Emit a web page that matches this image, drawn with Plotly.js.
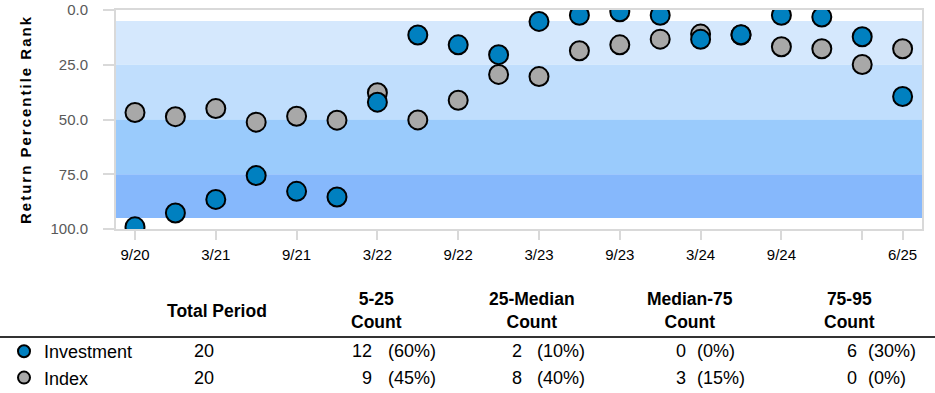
<!DOCTYPE html>
<html>
<head>
<meta charset="utf-8">
<script src="https://cdn.plot.ly/plotly-3.0.1.min.js"></script>
<style>html,body{margin:0;padding:0;background:#fff;}#chart{width:935px;height:393px;}</style>
</head>
<body>
<div id="chart"></div>
<script>
// ---- data ----
const quarters = ['9/20','12/20','3/21','6/21','9/21','12/21','3/22','6/22','9/22','12/22',
                  '3/23','6/23','9/23','12/23','3/24','6/24','9/24','12/24','3/25','6/25'];
const investmentRank = [99, 92.7, 86.5, 75.6, 82.8, 85.4, 42.1, 11.4, 15.9, 20.4,
                        5.2, 2.4, 0.8, 2.4, 13.4, 11.3, 2.4, 3.2, 12.2, 39.5];
const indexRank = [46.8, 48.7, 45.0, 51.2, 48.5, 50.3, 37.8, 50.2, 41.2, 29.4,
                   30.4, 18.6, 15.9, 13.3, 11.0, 11.4, 16.8, 17.7, 24.9, 17.7];
const tickQuarters = ['9/20','3/21','9/21','3/22','9/22','3/23','9/23','3/24','9/24','3/25','6/25'];
const tickText = ['9/20','3/21','9/21','3/22','9/22','3/23','9/23','3/24','9/24','','6/25'];
const yTicks = [0, 25, 50, 75, 100];
const bandEdges = [5, 25, 50, 75, 95];
const bandColors = ['#d5e8fd', '#c0defd', '#9acbfc', '#86b8fc'];

const seriesNames = ['Investment', 'Index'];
const totalPeriod = [20, 20];
const tableHeaders = ['Total Period', '5-25<br>Count', '25-Median<br>Count', 'Median-75<br>Count', '75-95<br>Count'];
const count5to25 = [12, 9];
const pct5to25 = [60, 45];
const count25toMed = [2, 8];
const pct25toMed = [10, 40];
const countMedto75 = [0, 3];
const pctMedto75 = [0, 15];
const count75to95 = [6, 0];
const pct75to95 = [30, 0];

// ---- layout helpers (pixel -> paper) ----
const ML = 116, MR = 13, MT = 10, MB = 164, W = 935, H = 393;
const PW = W - ML - MR, PH = H - MT - MB;
const px = x => (x - ML) / PW;
const py = y => (H - MB - y) / PH;

const FONT = 'Liberation Sans, Arial, sans-serif';

const traces = [
  {
    x: quarters, y: indexRank, name: seriesNames[1], type: 'scatter', mode: 'markers',
    marker: {size: 19, color: '#a8a8a8', line: {color: '#000', width: 2}},
    legendrank: 2, hoverinfo: 'x+y'
  },
  {
    x: quarters, y: investmentRank, name: seriesNames[0], type: 'scatter', mode: 'markers',
    marker: {size: 19, color: '#0080c0', line: {color: '#000', width: 2}},
    legendrank: 1, hoverinfo: 'x+y'
  }
];

const shapes = [];
for (let i = 0; i < bandColors.length; i++) {
  shapes.push({type: 'rect', xref: 'paper', yref: 'y', x0: 0, x1: 1,
    y0: bandEdges[i], y1: bandEdges[i + 1], fillcolor: bandColors[i],
    line: {width: 0}, layer: 'below'});
}
shapes.push({type: 'line', xref: 'paper', yref: 'paper', x0: px(0), x1: px(W),
  y0: py(337), y1: py(337), line: {color: '#333', width: 2}});

const annotations = [];
const hdrX = [217, 376, 532, 690, 849];
tableHeaders.forEach((t, i) => {
  annotations.push({xref: 'paper', yref: 'paper', x: px(hdrX[i]), y: py(311),
    text: '<b>' + t + '</b>', showarrow: false, xanchor: 'center', yanchor: 'middle',
    font: {family: FONT, size: 17.5, color: '#000'}});
});
const rowY = [351, 378];
const countCols = [count5to25, count25toMed, countMedto75, count75to95];
const pctCols = [pct5to25, pct25toMed, pctMedto75, pct75to95];
const countRight = [374, 524, 688, 859];
const pctLeft = [386, 535, 695, 866];
for (let r = 0; r < 2; r++) {
  annotations.push({xref: 'paper', yref: 'paper', x: px(204), y: py(rowY[r]),
    text: String(totalPeriod[r]), showarrow: false, xanchor: 'center', yanchor: 'middle',
    font: {family: FONT, size: 18, color: '#000'}});
  for (let c = 0; c < 4; c++) {
    annotations.push({xref: 'paper', yref: 'paper', x: px(countRight[c]), y: py(rowY[r]),
      text: String(countCols[c][r]), showarrow: false, xanchor: 'right', yanchor: 'middle',
      font: {family: FONT, size: 18, color: '#000'}});
    annotations.push({xref: 'paper', yref: 'paper', x: px(pctLeft[c]), y: py(rowY[r]),
      text: '(' + pctCols[c][r] + '%)', showarrow: false, xanchor: 'left', yanchor: 'middle',
      font: {family: FONT, size: 18, color: '#000'}});
  }
}

const layout = {
  width: W, height: H,
  margin: {l: ML, r: MR, t: MT, b: MB, pad: 0, autoexpand: false},
  paper_bgcolor: '#fff', plot_bgcolor: '#fff',
  font: {family: FONT, size: 15, color: '#000'},
  showlegend: true,
  legend: {x: px(4), y: py(333), xanchor: 'left', yanchor: 'top', orientation: 'v',
    font: {family: FONT, size: 18, color: '#000'}, bgcolor: 'rgba(0,0,0,0)',
    borderwidth: 0, itemsizing: 'constant', tracegroupgap: 0},
  xaxis: {
    type: 'category', range: [-0.47, 19.48], autorange: false,
    tickmode: 'array', tickvals: tickQuarters, ticktext: tickText,
    ticks: 'outside', ticklen: 9, tickwidth: 2, tickcolor: '#d9d9d9',
    tickfont: {family: FONT, size: 15, color: '#000'}, ticklabelstandoff: 2,
    showline: true, linecolor: '#d9d9d9', linewidth: 2, mirror: true,
    showgrid: false, zeroline: false, fixedrange: true, automargin: false
  },
  yaxis: {
    range: [100, 0], autorange: false,
    tickmode: 'array', tickvals: yTicks, tickformat: '.1f',
    ticks: 'outside', ticklen: 11, tickwidth: 2, tickcolor: '#d9d9d9',
    tickfont: {family: FONT, size: 15, color: '#595959'}, ticklabelstandoff: 12,
    showline: true, linecolor: '#d9d9d9', linewidth: 2, mirror: true,
    showgrid: false, zeroline: false, fixedrange: true, automargin: false,
    title: {text: '<span style="letter-spacing:2px">Return Percentile Rank</span>',
      font: {family: FONT, size: 15, color: '#000', weight: 700}, standoff: 15}
  },
  shapes: shapes,
  annotations: annotations
};

Plotly.newPlot('chart', traces, layout, {displayModeBar: false, staticPlot: true});
</script>
</body>
</html>
